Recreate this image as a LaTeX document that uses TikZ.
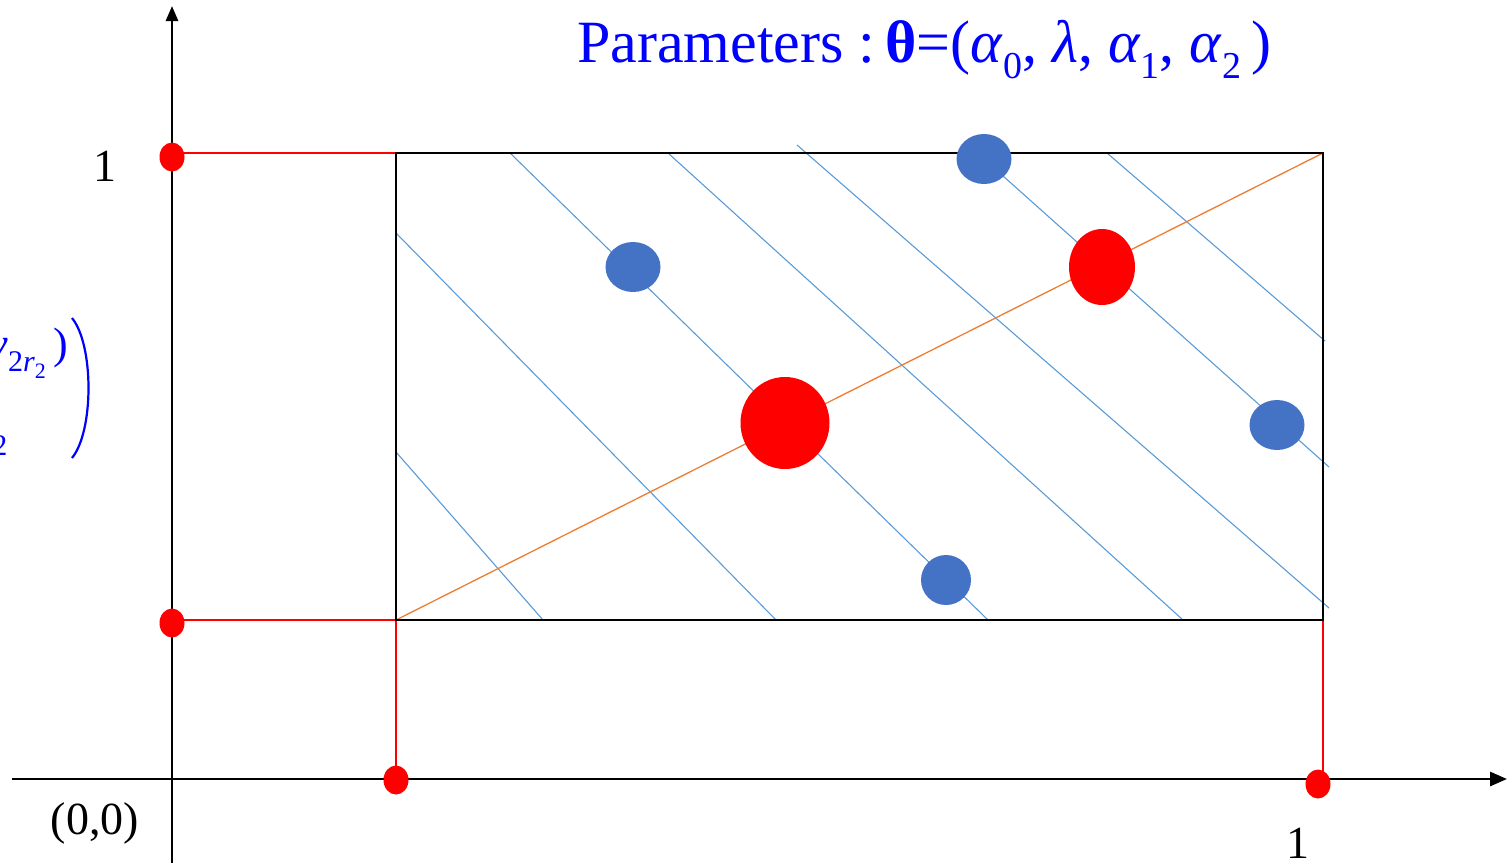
\documentclass[tikz,border=0pt]{standalone}
\usepackage{fontspec}
\setmainfont{Liberation Serif}
\usetikzlibrary{arrows.meta,shapes.geometric}
\definecolor{dotblue}{RGB}{68,114,196}
\definecolor{lineblue}{RGB}{91,155,213}
\definecolor{orangeline}{RGB}{237,125,49}
\definecolor{txtblue}{RGB}{0,0,255}
\newcommand\mysub[1]{\raisebox{-0.28em}{\fontsize{38}{38}\selectfont #1}}
\begin{document}
\begin{tikzpicture}[x=1pt,y=-1pt,
  axis/.style={line width=2.8pt,black},
  frame/.style={line width=2.8pt,black},
  redline/.style={line width=1.3pt,red},
  bline/.style={line width=1.1pt,lineblue},
  oline/.style={line width=1.3pt,orangeline},
  rdot/.style={ellipse,fill=red,inner sep=0pt},
  bdot/.style={ellipse,fill=dotblue,inner sep=0pt},
  lab/.style={inner sep=0pt,font=\fontsize{46}{46}\selectfont}]
\useasboundingbox (0,0) rectangle (1507,863);
% coordinates
\coordinate (O) at (172,779);
\coordinate (yb) at (172,863);
\coordinate (yt) at (172,6);
\coordinate (xl) at (12,779);
\coordinate (xr) at (1507,779);
\coordinate (BL) at (396,620);
\coordinate (TR) at (1323,153);
\coordinate (TL) at (396,153);
\coordinate (BR) at (1323,620);
% axes
\draw[axis,-{Triangle[length=15pt,width=12pt]}] (yb) -- (yt);
\draw[axis,-{Triangle[length=17pt,width=14pt]}] (xl) -- (xr);
% red guide lines
\draw[redline] (172,153) -- (TL);
\draw[redline] (172,620) -- (BL);
\draw[redline] (BL) -- (396,779);
\draw[redline] (BR) -- (1323,779);
% hatch lines
\draw[bline] (396,452) -- (543,620);
\draw[bline] (396,233) -- (776,620);
\draw[bline] (510,153) -- (988,620);
\draw[bline] (668,153) -- (1183,620);
\draw[bline] (797,145) -- (1329,608);
\draw[bline] (984,159) -- (1329,467);
\draw[bline] (1107,153) -- (1325,341);
% orange diagonal
\draw[oline] (BL) -- (TR);
% rectangle
\draw[frame] (TL) rectangle (BR);
% dots
\node[rdot,minimum width=25pt,minimum height=29pt] (d1) at (172,157) {};
\node[rdot,minimum width=25pt,minimum height=29pt] (d2) at (172,623) {};
\node[rdot,minimum width=25pt,minimum height=29pt] (d3) at (396,780) {};
\node[rdot,minimum width=25pt,minimum height=29pt] (d4) at (1318,784) {};
\node[rdot,minimum width=89pt,minimum height=92pt] (big) at (785,423) {};
\node[rdot,minimum width=66pt,minimum height=76pt] (mid) at (1102,267) {};
\node[bdot,minimum width=55pt,minimum height=50pt] (b1) at (633,267) {};
\node[bdot,minimum width=55pt,minimum height=50pt] (b2) at (984,159) {};
\node[bdot,minimum width=55pt,minimum height=50pt] (b3) at (1277,425) {};
\node[bdot,minimum width=50pt,minimum height=50pt] (b4) at (946,580) {};
% labels
\node[lab,anchor=base] (one1) at (105,181) {1};
\node[lab,anchor=base] (one2) at (1298,858) {1};
\node[lab,anchor=base] (orig) at (95,834) {(0,0)};
% title
\node[inner sep=0pt,anchor=base west,text=txtblue,font=\fontsize{60}{60}\selectfont] (title) at (577,62)
  {Parameters :\,\textbf{θ}=(\textit{α}\mysub{0}, \textit{λ}, \textit{α}\mysub{1}, \textit{α}\mysub{2}\,)};
% cropped left text
\node[inner sep=0pt,anchor=base east,text=txtblue,font=\fontsize{44}{44}\selectfont] (ytxt) at (68,358)
  {\textit{y}\raisebox{-0.3em}{\fontsize{30}{30}\selectfont 2\textit{r}\raisebox{-0.25em}{\fontsize{22}{22}\selectfont 2}}\,)};
\node[inner sep=0pt,anchor=base,text=txtblue,font=\fontsize{30}{30}\selectfont] (two) at (0,455) {2};
\draw[txtblue,line width=2.2pt] (72,318) .. controls (94,345) and (94,431) .. (72,458);
\end{tikzpicture}
\end{document}
